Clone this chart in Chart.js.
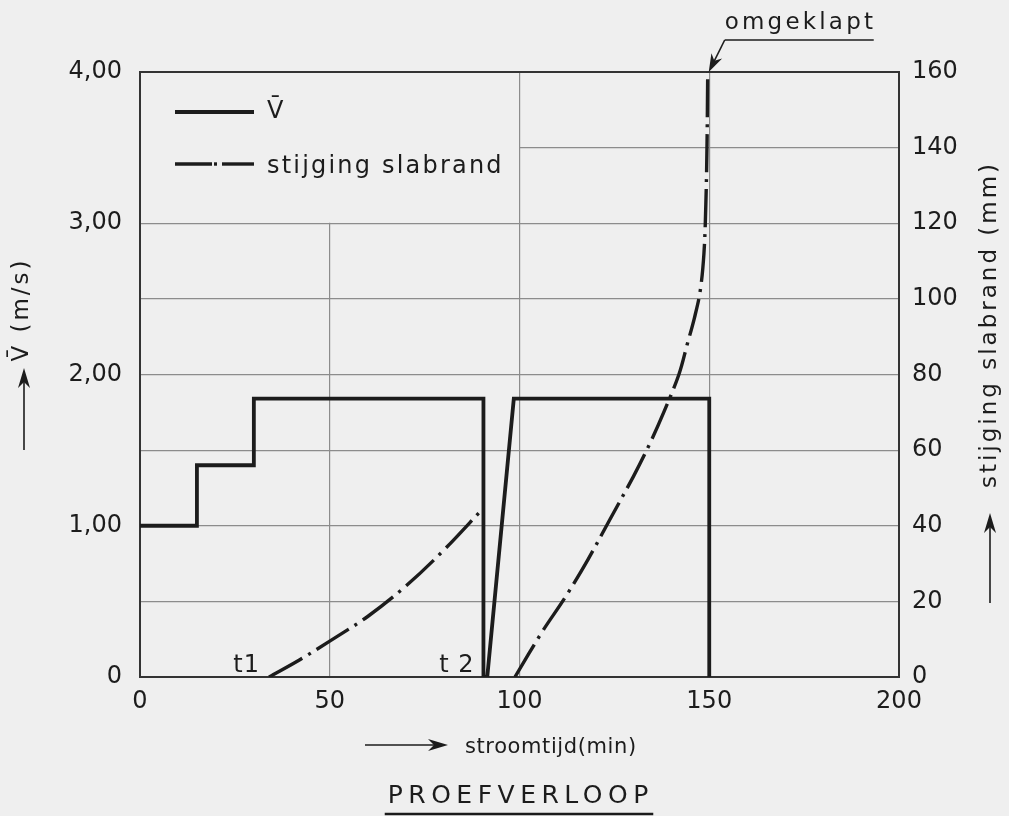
<!DOCTYPE html>
<html>
<head>
<meta charset="utf-8">
<script src="https://cdn.jsdelivr.net/npm/chart.js@4/dist/chart.umd.min.js"></script>
<style>
  html, body { margin: 0; padding: 0; background: #efefef; }
  canvas { display: block; }
</style>
</head>
<body>
<canvas id="c" width="1009" height="816"></canvas>
<script>
// Mean flow velocity (m/s) against flow time (min)
const speedTime  = [0, 15, 15, 30, 30, 90.5, 90.5, 91.5, 98.5, 150, 150];
const speedValue = [1.00, 1.00, 1.40, 1.40, 1.84, 1.84, 0, 0, 1.84, 1.84, 0];

// Rise of the slab edge (mm): first and second run
const riseTime1 = [34, 42, 50, 60, 70, 80, 90.5];
const riseMm1   = [0, 4.5, 9.5, 16, 24, 33.5, 44.7];
const riseTime2 = [98.8, 106, 112, 118, 124, 130, 134, 138, 142, 144.2, 146.1, 147.6, 148.6, 149.1, 149.4, 149.6];
const riseMm2   = [0, 12, 21, 31, 42, 53, 61, 70, 80, 88, 95, 102, 112, 125, 140, 160];

// Axis ticks
const timeTicks = [0, 50, 100, 150, 200];
const speedTickLabels = { 0: '0', 1: '1,00', 2: '2,00', 3: '3,00', 4: '4,00' };
const riseTicks = [0, 20, 40, 60, 80, 100, 120, 140, 160];

// Moments marked on the time axis
const eventLabels = ['t1', 't 2'];
const eventTimes  = [34, 90.5];

const speedLabel = 'V\u0304';
const riseLabel  = 'stijging slabrand';

const BG = '#efefef';
const INK = '#1c1c1c';
const GRID = '#8c8c8c';
const FONT = '"DejaVu Sans", "Liberation Sans", sans-serif';
const DASH_DOT = [38, 7, 3, 7];

const toPoints = (xs, ys) => xs.map((x, i) => ({ x: x, y: ys[i] }));
const risePoints = toPoints(riseTime1, riseMm1)
  .concat([{ x: 95, y: null }])
  .concat(toPoints(riseTime2, riseMm2));

function drawText(ctx, text, x, y, size, spacing, align) {
  ctx.save();
  ctx.font = size + 'px ' + FONT;
  ctx.letterSpacing = spacing + 'px';
  ctx.fillStyle = INK;
  ctx.textBaseline = 'alphabetic';
  let w = ctx.measureText(text).width - spacing;
  let sx = x;
  if (align === 'center') sx = x - w / 2;
  else if (align === 'right') sx = x - w;
  ctx.textAlign = 'left';
  ctx.fillText(text, sx, y);
  ctx.restore();
  return w;
}

function drawVerticalText(ctx, text, cx, cy, size, spacing) {
  ctx.save();
  ctx.translate(cx, cy);
  ctx.rotate(-Math.PI / 2);
  ctx.font = size + 'px ' + FONT;
  ctx.letterSpacing = spacing + 'px';
  ctx.fillStyle = INK;
  ctx.textBaseline = 'middle';
  ctx.textAlign = 'left';
  const w = ctx.measureText(text).width - spacing;
  ctx.fillText(text, -w / 2, 0);
  ctx.restore();
}

function drawArrow(ctx, x1, y1, x2, y2, head, width) {
  const a = Math.atan2(y2 - y1, x2 - x1);
  ctx.save();
  ctx.strokeStyle = INK;
  ctx.fillStyle = INK;
  ctx.lineWidth = 1.6;
  ctx.beginPath();
  ctx.moveTo(x1, y1);
  ctx.lineTo(x2 - Math.cos(a) * head * 0.6, y2 - Math.sin(a) * head * 0.6);
  ctx.stroke();
  ctx.beginPath();
  ctx.moveTo(x2, y2);
  ctx.lineTo(x2 - Math.cos(a) * head + Math.sin(a) * width, y2 - Math.sin(a) * head - Math.cos(a) * width);
  ctx.lineTo(x2 - Math.cos(a) * head * 0.7, y2 - Math.sin(a) * head * 0.7);
  ctx.lineTo(x2 - Math.cos(a) * head - Math.sin(a) * width, y2 - Math.sin(a) * head + Math.cos(a) * width);
  ctx.closePath();
  ctx.fill();
  ctx.restore();
}

const backgroundPlugin = {
  id: 'paper',
  beforeDraw(chart) {
    const ctx = chart.ctx;
    ctx.save();
    ctx.fillStyle = BG;
    ctx.fillRect(0, 0, chart.width, chart.height);
    ctx.restore();
  }
};

// Legend panel in the upper-left grid cells, plus the plot frame
const framePlugin = {
  id: 'frame',
  beforeDatasetsDraw(chart) {
    const { ctx, chartArea: a, scales } = chart;
    const panelRight = scales.x.getPixelForValue(100);
    const panelBottom = scales.y.getPixelForValue(3);
    ctx.save();
    ctx.fillStyle = BG;
    ctx.fillRect(a.left + 1, a.top + 1, panelRight - a.left - 1.5, panelBottom - a.top - 1.5);
    ctx.strokeStyle = '#333';
    ctx.lineWidth = 2;
    ctx.strokeRect(a.left, a.top, a.right - a.left, a.bottom - a.top);
    ctx.restore();
  }
};

const annotationPlugin = {
  id: 'annotations',
  afterDraw(chart) {
    const { ctx, chartArea: a, scales } = chart;
    const ds = chart.data.datasets;

    // legend
    const lx1 = a.left + 35, lx2 = a.left + 114;
    const ly1 = a.top + 40, ly2 = a.top + 92;
    ctx.save();
    ctx.strokeStyle = INK;
    ctx.lineCap = 'butt';
    ctx.lineWidth = ds[0].borderWidth;
    ctx.beginPath(); ctx.moveTo(lx1, ly1); ctx.lineTo(lx2, ly1); ctx.stroke();
    ctx.lineWidth = ds[1].borderWidth;
    ctx.beginPath(); ctx.moveTo(lx1, ly2); ctx.lineTo(lx1 + 37, ly2); ctx.stroke();
    ctx.beginPath(); ctx.moveTo(lx1 + 39, ly2); ctx.lineTo(lx1 + 42, ly2); ctx.stroke();
    ctx.beginPath(); ctx.moveTo(lx1 + 47, ly2); ctx.lineTo(lx2, ly2); ctx.stroke();
    ctx.restore();
    drawText(ctx, ds[0].label, lx2 + 13, ly1 + 6, 24, 0, 'left');
    drawText(ctx, ds[1].label, lx2 + 13, ly2 + 9, 24, 2.2, 'left');

    // event marks on the time axis
    eventLabels.forEach((t, i) => {
      drawText(ctx, t, scales.x.getPixelForValue(eventTimes[i]) - 10, a.bottom - 5, 24, 1, 'right');
    });

    // "omgeklapt" call-out at the top of the rise curve
    const tipX = scales.x.getPixelForValue(riseTime2[riseTime2.length - 1]);
    const tipY = scales.y2.getPixelForValue(riseMm2[riseMm2.length - 1]);
    drawText(ctx, 'omgeklapt', tipX + 17, 29, 23, 3.2, 'left');
    ctx.save();
    ctx.strokeStyle = INK;
    ctx.lineWidth = 1.6;
    ctx.beginPath();
    ctx.moveTo(tipX + 166, 40);
    ctx.lineTo(tipX + 17, 40);
    ctx.stroke();
    ctx.restore();
    drawArrow(ctx, tipX + 17, 40, tipX + 1, tipY, 18, 6);

    // axis titles
    drawVerticalText(ctx, 'V\u0304 (m/s)', 22, 311, 23, 3);
    drawArrow(ctx, 24, 450, 24, 368, 20, 6);
    drawVerticalText(ctx, 'stijging slabrand (mm)', 990, 326, 23, 3);
    drawArrow(ctx, 990, 603, 990, 513, 20, 6);
    drawArrow(ctx, 365, 745, 448, 745, 20, 6);
    drawText(ctx, 'stroomtijd(min)', 465, 753, 21, 0.6, 'left');

    // title
    const w = drawText(ctx, 'PROEFVERLOOP', 518, 803, 25, 5.5, 'center');
    ctx.save();
    ctx.strokeStyle = INK;
    ctx.lineWidth = 2.5;
    ctx.beginPath();
    ctx.moveTo(518 - w / 2 - 3, 814);
    ctx.lineTo(518 + w / 2 + 5, 814);
    ctx.stroke();
    ctx.restore();
  }
};

const tickFont = { family: FONT, size: 24 };

new Chart(document.getElementById('c'), {
  type: 'line',
  data: {
    datasets: [
      {
        label: speedLabel,
        data: toPoints(speedTime, speedValue),
        yAxisID: 'y',
        borderColor: INK,
        borderWidth: 3.8,
        pointRadius: 0,
        tension: 0,
        borderJoinStyle: 'miter'
      },
      {
        label: riseLabel,
        data: risePoints,
        yAxisID: 'y2',
        borderColor: INK,
        borderWidth: 3.4,
        borderDash: DASH_DOT,
        pointRadius: 0,
        tension: 0.35,
        spanGaps: false
      }
    ]
  },
  options: {
    responsive: false,
    animation: false,
    devicePixelRatio: 1,
    layout: { padding: { top: 72, left: 0, right: 0, bottom: 0 } },
    plugins: { legend: { display: false }, tooltip: { enabled: false } },
    scales: {
      x: {
        type: 'linear',
        min: timeTicks[0],
        max: timeTicks[timeTicks.length - 1],
        afterBuildTicks: s => { s.ticks = timeTicks.map(v => ({ value: v })); },
        afterFit: s => { s.height = 139; },
        grid: { color: GRID, lineWidth: 1.2, drawTicks: false },
        border: { display: false },
        ticks: { font: tickFont, color: INK, padding: 10, maxRotation: 0 }
      },
      y: {
        position: 'left',
        min: 0,
        max: 4,
        ticks: {
          stepSize: 0.5,
          font: tickFont,
          color: INK,
          padding: 18,
          callback: v => (speedTickLabels[v] !== undefined ? speedTickLabels[v] : '')
        },
        afterFit: s => { s.width = 140; },
        grid: { color: GRID, lineWidth: 1.2, drawTicks: false },
        border: { display: false }
      },
      y2: {
        position: 'right',
        min: riseTicks[0],
        max: riseTicks[riseTicks.length - 1],
        afterBuildTicks: s => { s.ticks = riseTicks.map(v => ({ value: v })); },
        afterFit: s => { s.width = 110; },
        ticks: { font: tickFont, color: INK, padding: 13 },
        grid: { display: false, drawTicks: false },
        border: { display: false }
      }
    }
  },
  plugins: [backgroundPlugin, framePlugin, annotationPlugin]
});
</script>
</body>
</html>
